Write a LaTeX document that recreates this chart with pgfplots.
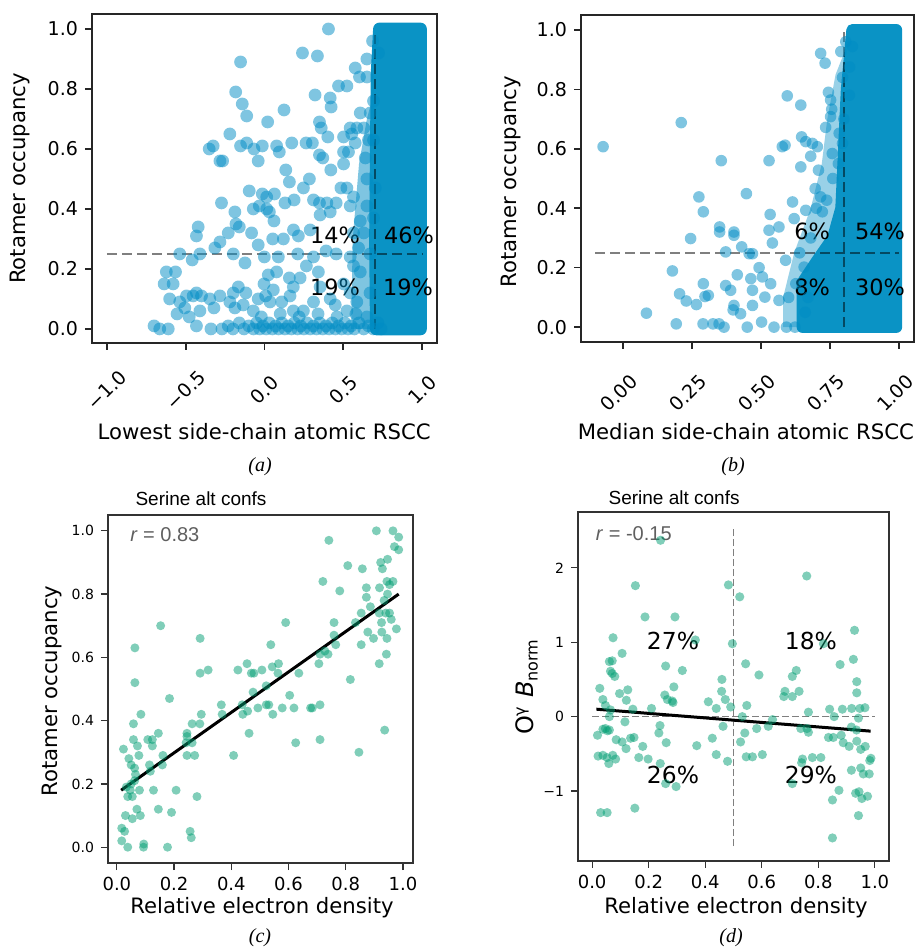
\documentclass[border=0pt]{standalone}
\usepackage{fontspec}
\setmainfont{DejaVu Sans}
\newfontfamily\helv{Liberation Sans}
\newfontfamily\tms{Liberation Serif}
\usepackage{pgfplots}
\pgfplotsset{compat=1.18}
\definecolor{ablue}{RGB}{0,140,196}
\definecolor{acore}{RGB}{10,147,197}
\definecolor{sgreen}{RGB}{2,158,115}
\definecolor{rgray}{RGB}{95,95,95}
\pgfplotsset{
  panel/.style={scale only axis, anchor=south west, tick align=outside,
    xtick pos=bottom, ytick pos=left, major tick length=3.5pt,
    axis line style={black!85, line width=0.8pt},
    every tick/.style={black!85, line width=0.8pt}},
  bluedots/.style={only marks, mark=*, mark size=#1, color=ablue,
    mark options={draw opacity=0, fill=ablue, fill opacity=0.5}},
  greendots/.style={only marks, mark=*, mark size=#1, color=sgreen,
    mark options={draw opacity=0, fill=sgreen, fill opacity=0.5}},
  quad/.style={black, opacity=0.5, line width=1pt, dash pattern=on 5pt off 2.5pt},
}
\begin{document}
\begin{tikzpicture}
\useasboundingbox (0,0) rectangle (459pt,474.5pt);

% (a) lowest side-chain RSCC
\begin{axis}[panel, at={(46pt,303pt)}, width=172.5pt, height=164.5pt,
  xmin=-1.095, xmax=1.095, ymin=-0.047, ymax=1.05,
  xtick={-1,-0.5,0,0.5,1}, xticklabels={−1.0,−0.5,0.0,0.5,1.0},
  ytick={0,0.2,0.4,0.6,0.8,1}, yticklabels={0.0,0.2,0.4,0.6,0.8,1.0},
  xticklabel style={anchor=center, yshift=-20pt, rotate=45, font=\fontsize{9.5}{11}\selectfont},
  yticklabel style={font=\fontsize{9.5}{11}\selectfont},
  xlabel={Lowest side-chain atomic RSCC}, ylabel={Rotamer occupancy},
  label style={font=\fontsize{10.6}{12}\selectfont},
  xlabel style={at={(axis description cs:0.499,-0.27)}, anchor=center},
  ylabel style={at={(axis description cs:-0.209,0.5)}, anchor=center},
]
\addplot[fill=ablue, fill opacity=0.5, draw=none] coordinates {
  (0.55,0) (0.56,0.3) (0.6,0.55) (0.65,0.7) (0.70,0.8) (0.70,0)} \closedcycle;
\addplot[bluedots=3.2pt] coordinates {
  (0.406,1.0)(0.241,0.92)(0.336,0.91)(-0.152,0.89)(-0.183,0.79)(-0.141,0.75)(-0.113,0.71)
  (0.124,0.73)(0.02,0.69)(0.47,0.81)(0.523,0.81)(0.417,0.77)(0.321,0.78)(0.423,0.74)
  (0.576,0.87)(0.603,0.84)(0.65,0.84)(0.65,0.90)(0.686,0.96)(0.724,0.92)(0.608,0.72)
  (0.63,0.67)(0.349,0.69)(0.36,0.67)(0.402,0.64)(-0.22,0.65)(-0.351,0.60)(-0.326,0.61)
  (-0.283,0.56)(-0.266,0.56)(-0.152,0.61)(-0.113,0.62)(-0.067,0.60)(-0.014,0.61)(-0.04,0.56)
  (0.077,0.61)(0.094,0.59)(0.173,0.62)(0.264,0.62)(0.304,0.62)(0.349,0.58)(0.37,0.57)
  (0.421,0.53)(0.135,0.53)(0.158,0.49)(0.247,0.47)(0.285,0.50)(-0.097,0.46)(-0.014,0.45)
  (0.014,0.44)(0.063,0.45)(-0.273,0.42)(-0.071,0.40)(-0.033,0.41)(0.014,0.40)(0.031,0.39)
  (0.06,0.36)(0.13,0.42)(0.188,0.43)(0.311,0.43)(0.349,0.42)(0.396,0.42)(0.455,0.42)
  (-0.188,0.39)(-0.181,0.35)(-0.16,0.34)(-0.421,0.34)(-0.432,0.31)(-0.23,0.32)(-0.283,0.29)
  (-0.082,0.32)(-0.04,0.28)(0.052,0.30)(0.12,0.30)(0.184,0.33)(0.215,0.31)(0.29,0.33)
  (0.353,0.38)(0.417,0.39)(0.544,0.41)(0.565,0.44)(0.523,0.47)(0.485,0.47)(0.502,0.55)
  (0.533,0.59)(0.576,0.62)(0.502,0.59)(0.64,0.57)(0.65,0.50)(-0.538,0.25)(-0.41,0.25)
  (-0.459,0.23)(-0.315,0.27)(-0.198,0.25)(-0.124,0.22)(-0.001,0.24)(0.088,0.24)(0.211,0.25)
  (0.311,0.24)(0.391,0.26)(0.455,0.25)(0.544,0.24)(0.597,0.27)(-0.623,0.19)(-0.565,0.19)
  (-0.637,0.15)(-0.58,0.15)(-0.602,0.10)(-0.555,0.05)(-0.538,0.09)(-0.506,0.07)(-0.495,0.11)
  (-0.453,0.11)(-0.432,0.12)(-0.4,0.11)(-0.41,0.06)(-0.478,0.04)(-0.432,0.01)(-0.34,0.0)
  (-0.321,0.07)(-0.347,0.10)(-0.283,0.11)(-0.22,0.09)(-0.198,0.12)(-0.166,0.14)(-0.188,0.07)
  (-0.135,0.08)(-0.118,0.12)(-0.071,0.06)(-0.04,0.10)(0.007,0.11)(-0.003,0.15)(0.024,0.18)
  (0.077,0.19)(0.056,0.13)(0.109,0.09)(0.162,0.11)(0.183,0.14)(0.158,0.17)(0.226,0.17)
  (0.266,0.21)(0.342,0.19)(0.353,0.14)(0.417,0.10)(0.449,0.08)(0.311,0.09)(0.247,0.06)
  (0.183,0.06)(0.035,0.09)(-0.701,0.01)(-0.665,0.0)(-0.611,0.0)(0.502,0.15)(0.544,0.12)
  (0.586,0.09)(0.523,0.06)(0.565,0.21)(0.608,0.19)(0.63,0.32)(0.608,0.36)(0.565,0.32)
  (0.65,0.41)(0.67,0.25)(0.67,0.12)(0.65,0.04)(0.692,0.37)(0.703,0.47)(0.692,0.63)
  (0.66,0.63)(0.692,0.76)(0.671,0.72)(0.586,0.67)(0.554,0.65)(0.502,0.64)(0.544,0.67)
  (-0.27,0.0)(-0.23,0.01)(-0.2,0.0)(-0.16,0.02)(-0.13,0.0)(-0.1,0.01)(-0.07,0.0)(-0.05,0.02)
  (-0.03,0.0)(-0.01,0.01)(0.01,0.0)(0.03,0.02)(0.05,0.0)(0.07,0.01)(0.09,0.0)(0.11,0.02)
  (0.13,0.0)(0.15,0.01)(0.17,0.0)(0.19,0.02)(0.21,0.0)(0.23,0.01)(0.25,0.0)(0.27,0.02)
  (0.29,0.0)(0.31,0.01)(0.33,0.0)(0.35,0.02)(0.37,0.0)(0.39,0.01)(0.41,0.0)(0.43,0.02)
  (0.45,0.0)(0.47,0.01)(0.49,0.0)(0.51,0.02)(0.53,0.0)(0.55,0.01)(0.57,0.0)(0.6,0.02)
  (0.63,0.0)(0.66,0.01)(0.69,0.0)(0.72,0.02)(0.74,0.0)(-0.02,0.04)(0.1,0.05)(0.22,0.04)
  (0.34,0.05)(0.46,0.04)(0.58,0.05)
};
\addplot[fill=acore, draw=acore, line width=6.4pt, line join=round] coordinates {
  (0.71,0) (0.705,0.3) (0.71,0.6) (0.715,0.85) (0.73,1.0) (0.99,1.0) (0.99,0)} -- cycle;
\addplot[quad] coordinates {(-1,0.25) (1,0.25)};
\addplot[quad] coordinates {(0.7,0) (0.7,0.98)};
\node[font=\fontsize{11.2}{13}\selectfont] at (axis cs:0.448,0.313) {14\%};
\node[font=\fontsize{11.2}{13}\selectfont] at (axis cs:0.917,0.313) {46\%};
\node[font=\fontsize{11.2}{13}\selectfont] at (axis cs:0.448,0.14) {19\%};
\node[font=\fontsize{11.2}{13}\selectfont] at (axis cs:0.911,0.14) {19\%};
\end{axis}

% (b) median side-chain RSCC
\begin{axis}[panel, at={(290.5pt,303.5pt)}, width=166.5pt, height=163.5pt,
  xmin=-0.152, xmax=1.054, ymin=-0.05, ymax=1.05,
  xtick={0,0.25,0.5,0.75,1}, xticklabels={0.00,0.25,0.50,0.75,1.00},
  ytick={0,0.2,0.4,0.6,0.8,1}, yticklabels={0.0,0.2,0.4,0.6,0.8,1.0},
  xticklabel style={anchor=center, yshift=-22pt, xshift=-2pt, rotate=45, font=\fontsize{9.5}{11}\selectfont},
  yticklabel style={font=\fontsize{9.5}{11}\selectfont},
  xlabel={Median side-chain atomic RSCC}, ylabel={Rotamer occupancy},
  label style={font=\fontsize{10.6}{12}\selectfont},
  xlabel style={at={(axis description cs:0.495,-0.275)}, anchor=center},
  ylabel style={at={(axis description cs:-0.21,0.49)}, anchor=center},
]
\addplot[fill=ablue, fill opacity=0.4, draw=none] coordinates {
  (0.58,0) (0.58,0.1) (0.62,0.25) (0.68,0.4) (0.72,0.55) (0.74,0.7) (0.77,0.85) (0.80,0.92) (0.80,0)} \closedcycle;
\addplot[bluedots=2.9pt] coordinates {
  (-0.072,0.607)(0.211,0.688)(0.085,0.047)(0.193,0.011)(0.179,0.189)(0.205,0.112)(0.229,0.088)
  (0.266,0.076)(0.245,0.298)(0.275,0.438)(0.291,0.388)(0.291,0.146)(0.297,0.103)(0.29,0.011)
  (0.326,0.011)(0.348,0.011)(0.366,0.0)(0.309,0.107)(0.356,0.56)(0.35,0.337)(0.35,0.32)
  (0.372,0.253)(0.402,0.32)(0.402,0.309)(0.372,0.14)(0.39,0.124)(0.402,0.073)(0.414,0.176)
  (0.399,0.058)(0.426,0.045)(0.447,0.449)(0.43,0.27)(0.457,0.247)(0.469,0.247)(0.463,0.163)
  (0.469,0.124)(0.45,0.0)(0.469,0.073)(0.493,0.2)(0.502,0.017)(0.505,0.169)(0.514,0.101)
  (0.529,0.56)(0.533,0.379)(0.529,0.326)(0.541,0.283)(0.535,0.146)(0.547,0.0)(0.565,0.337)
  (0.565,0.09)(0.577,0.607)(0.587,0.612)(0.595,0.778)(0.592,0.0)(0.589,0.225)(0.614,0.421)
  (0.62,0.365)(0.626,0.146)(0.623,0.0)(0.644,0.747)(0.647,0.64)(0.644,0.539)(0.662,0.393)
  (0.656,0.202)(0.662,0.624)(0.686,0.618)(0.68,0.575)(0.704,0.607)(0.708,0.528)(0.696,0.466)
  (0.716,0.438)(0.722,0.388)(0.738,0.427)(0.716,0.921)(0.732,0.888)(0.744,0.79)(0.752,0.764)
  (0.734,0.672)(0.756,0.733)(0.752,0.708)(0.758,0.584)(0.789,0.927)(0.795,0.84)(0.783,0.652)
  (0.795,0.618)(0.807,0.96)(0.821,0.875)(0.831,0.944)(0.66,0.05)(0.67,0.1)(0.64,0.25)
  (0.68,0.3)(0.6,0.1)(0.7,0.4)(0.76,0.5)(0.78,0.55)(0.8,0.7)(0.82,0.78)
};
\addplot[fill=acore, draw=acore, line width=5.8pt, line join=round] coordinates {
  (0.65,0) (0.65,0.15) (0.70,0.22) (0.76,0.3) (0.79,0.4) (0.80,0.6) (0.81,0.8) (0.83,1.0) (0.99,1.0) (0.99,0)} -- cycle;
\addplot[quad] coordinates {(-0.1,0.25) (1,0.25)};
\addplot[quad] coordinates {(0.8,0) (0.8,1.0)};
\node[font=\fontsize{11.2}{13}\selectfont] at (axis cs:0.685,0.323) {6\%};
\node[font=\fontsize{11.2}{13}\selectfont] at (axis cs:0.931,0.323) {54\%};
\node[font=\fontsize{11.2}{13}\selectfont] at (axis cs:0.685,0.135) {8\%};
\node[font=\fontsize{11.2}{13}\selectfont] at (axis cs:0.931,0.135) {30\%};
\end{axis}

% (c) occupancy vs relative density
\begin{axis}[panel, at={(54pt,43pt)}, width=152.5pt, height=174pt,
  axis line style={black!80, line width=0.6pt}, every tick/.style={black!80, line width=0.6pt},
  xmin=-0.031, xmax=1.035, ymin=-0.05, ymax=1.05,
  xtick={0,0.2,0.4,0.6,0.8,1}, xticklabels={0.0,0.2,0.4,0.6,0.8,1.0},
  ytick={0,0.2,0.4,0.6,0.8,1}, yticklabels={0.0,0.2,0.4,0.6,0.8,1.0},
  xticklabel style={font=\fontsize{9}{10}\selectfont},
  yticklabel style={font=\fontsize{7}{8}\selectfont},
  xlabel={Relative electron density}, ylabel={Rotamer occupancy},
  label style={font=\fontsize{10.6}{12}\selectfont},
  xlabel style={at={(axis description cs:0.505,-0.129)}, anchor=center},
  ylabel style={at={(axis description cs:-0.184,0.494)}, anchor=center},
  title={Serine alt confs},
  title style={at={(axis description cs:0.305,1.046)}, anchor=center, yshift=-6pt, font=\helv\fontsize{9.5}{11}\selectfont},
]
\addplot[greendots=2.25pt] coordinates {
  (0.907,1.0)(0.965,1.0)(0.985,0.98)(0.97,0.95)(0.985,0.94)(0.741,0.97)(0.807,0.89)(0.858,0.88)
  (0.922,0.90)(0.946,0.91)(0.928,0.88)(0.72,0.84)(0.779,0.81)(0.872,0.82)(0.918,0.82)(0.944,0.84)
  (0.965,0.84)(0.953,0.83)(0.946,0.80)(0.872,0.79)(0.934,0.78)(0.886,0.76)(0.854,0.74)(0.940,0.74)
  (0.917,0.74)(0.953,0.74)(0.834,0.71)(0.759,0.71)(0.925,0.71)(0.959,0.72)(0.877,0.68)(0.926,0.68)
  (0.977,0.69)(0.897,0.66)(0.944,0.66)(0.759,0.67)(0.765,0.64)(0.854,0.64)(0.942,0.61)(0.917,0.58)
  (0.706,0.58)(0.738,0.61)(0.727,0.62)(0.71,0.61)(0.59,0.71)(0.538,0.64)(0.565,0.58)(0.543,0.57)
  (0.636,0.55)(0.563,0.55)(0.507,0.56)(0.455,0.58)(0.479,0.55)(0.47,0.55)(0.423,0.56)(0.319,0.56)
  (0.291,0.55)(0.291,0.66)(0.153,0.70)(0.063,0.63)(0.063,0.52)(0.184,0.47)(0.604,0.48)(0.522,0.51)
  (0.476,0.49)(0.493,0.44)(0.522,0.45)(0.531,0.45)(0.545,0.42)(0.578,0.44)(0.619,0.44)(0.677,0.44)
  (0.683,0.44)(0.71,0.45)(0.438,0.45)(0.365,0.45)(0.368,0.42)(0.44,0.42)(0.457,0.43)(0.462,0.36)
  (0.408,0.29)(0.625,0.33)(0.71,0.34)(0.846,0.30)(0.936,0.37)(0.816,0.53)(0.295,0.42)(0.29,0.39)
  (0.263,0.39)(0.245,0.36)(0.245,0.35)(0.242,0.33)(0.263,0.33)(0.245,0.29)(0.272,0.29)(0.207,0.18)
  (0.28,0.16)(0.256,0.05)(0.26,0.03)(0.177,0.0)(0.191,0.11)(0.145,0.12)(0.128,0.18)(0.159,0.26)
  (0.161,0.29)(0.145,0.36)(0.124,0.34)(0.108,0.34)(0.124,0.32)(0.114,0.26)(0.117,0.24)(0.084,0.42)
  (0.058,0.39)(0.058,0.34)(0.072,0.32)(0.077,0.29)(0.023,0.31)(0.042,0.28)(0.05,0.26)(0.062,0.25)
  (0.065,0.23)(0.062,0.21)(0.05,0.20)(0.033,0.19)(0.047,0.18)(0.079,0.18)(0.038,0.16)(0.054,0.16)
  (0.03,0.10)(0.054,0.09)(0.07,0.12)(0.082,0.10)(0.017,0.06)(0.027,0.05)(0.017,0.02)(0.038,0.0)
  (0.094,0.01)(0.093,0.0)
};
\addplot[black, line width=1.5pt] coordinates {(0.015,0.18) (0.985,0.80)};
\node[anchor=west, text=rgray, font=\helv\fontsize{10}{12}\selectfont] at (rel axis cs:0.05,0.945) {\textit{r} = 0.83};
\end{axis}

% (d) O-gamma B-factor vs relative density
\begin{axis}[panel, at={(289pt,44pt)}, width=155.5pt, height=174.5pt,
  axis line style={black!80, line width=0.6pt}, every tick/.style={black!80, line width=0.6pt},
  xmin=-0.05, xmax=1.05, ymin=-1.94, ymax=2.75,
  xtick={0,0.2,0.4,0.6,0.8,1}, xticklabels={0.0,0.2,0.4,0.6,0.8,1.0},
  ytick={-1,0,1,2}, yticklabels={−1,0,1,2},
  xticklabel style={font=\fontsize{9}{10}\selectfont},
  yticklabel style={font=\fontsize{7}{8}\selectfont},
  xlabel={Relative electron density},
  ylabel={O\textsuperscript{γ} \textit{B}\textsubscript{norm}},
  label style={font=\fontsize{10.6}{12}\selectfont},
  xlabel style={at={(axis description cs:0.508,-0.135)}, anchor=center},
  ylabel style={at={(axis description cs:-0.164,0.499)}, anchor=center, font=\fontsize{12}{14}\selectfont},
  title={Serine alt confs},
  title style={at={(axis description cs:0.309,1.04)}, anchor=center, yshift=-6pt, font=\helv\fontsize{9.5}{11}\selectfont},
]
\addplot[greendots=2.3pt] coordinates {
  (0.242,2.37)(0.153,1.76)(0.482,1.77)(0.522,1.61)(0.759,1.89)(0.187,1.34)(0.293,1.34)(0.074,1.06)
  (0.365,1.03)(0.496,0.98)(0.818,0.98)(0.928,1.16)(0.106,0.85)(0.061,0.74)(0.071,0.75)(0.26,0.68)
  (0.543,0.71)(0.877,0.70)(0.924,0.77)(0.065,0.61)(0.071,0.58)(0.08,0.54)(0.319,0.62)(0.59,0.56)
  (0.708,0.54)(0.722,0.62)(0.459,0.50)(0.936,0.47)(0.027,0.38)(0.289,0.40)(0.097,0.31)(0.126,0.36)
  (0.458,0.34)(0.682,0.34)(0.732,0.34)(0.936,0.32)(0.038,0.23)(0.121,0.22)(0.257,0.29)(0.266,0.23)
  (0.283,0.21)(0.471,0.23)(0.678,0.27)(0.708,0.27)(0.411,0.20)(0.286,0.19)(0.047,0.15)(0.21,0.11)
  (0.439,0.11)(0.49,0.13)(0.547,0.15)(0.765,0.06)(0.965,0.12)(0.947,0.11)(0.918,0.11)(0.885,0.10)
  (0.84,0.10)(0.065,0.09)(0.144,0.10)(0.061,0.0)(0.531,0.0)(0.856,0.0)(0.942,-0.02)(0.116,-0.07)
  (0.638,-0.04)(0.24,-0.12)(0.463,-0.13)(0.582,-0.16)(0.623,-0.13)(0.738,-0.16)(0.76,-0.16)(0.917,-0.14)
  (0.935,-0.18)(0.019,-0.25)(0.038,-0.17)(0.047,-0.16)(0.061,-0.18)(0.054,-0.19)(0.236,-0.22)(0.765,-0.21)
  (0.54,-0.22)(0.085,-0.31)(0.106,-0.34)(0.136,-0.29)(0.148,-0.28)(0.425,-0.29)(0.525,-0.34)(0.836,-0.28)
  (0.853,-0.28)(0.881,-0.25)(0.888,-0.35)(0.909,-0.40)(0.936,-0.33)(0.966,-0.40)(0.12,-0.43)(0.179,-0.40)
  (0.262,-0.35)(0.37,-0.39)(0.95,-0.44)(0.021,-0.53)(0.038,-0.52)(0.053,-0.55)(0.073,-0.52)(0.059,-0.63)
  (0.083,-0.57)(0.165,-0.55)(0.198,-0.57)(0.439,-0.51)(0.479,-0.60)(0.545,-0.54)(0.567,-0.54)(0.602,-0.51)
  (0.744,-0.57)(0.779,-0.55)(0.809,-0.55)(0.741,-0.62)(0.986,-0.56)(0.982,-0.59)(0.241,-0.63)(0.917,-0.72)
  (0.95,-0.69)(0.959,-0.77)(0.98,-0.77)(0.708,-0.90)(0.26,-0.90)(0.297,-0.94)(0.873,-0.99)(0.932,-1.03)
  (0.944,-1.01)(0.954,-1.10)(0.974,-1.07)(0.85,-1.12)(0.03,-1.29)(0.053,-1.29)(0.151,-1.23)(0.942,-1.33)
  (0.85,-1.63)
};
\addplot[black, opacity=0.5, line width=0.75pt, dash pattern=on 3.5pt off 1.5pt] coordinates {(0.5,-1.74) (0.5,2.54)};
\addplot[black, opacity=0.5, line width=0.75pt, dash pattern=on 3.5pt off 1.5pt] coordinates {(0,0) (1,0)};
\addplot[black, line width=1.5pt] coordinates {(0.015,0.10) (0.985,-0.195)};
\node[anchor=west, text=rgray, font=\helv\fontsize{10}{12}\selectfont] at (rel axis cs:0.035,0.937) {\textit{r} = -0.15};
\node[font=\fontsize{11.7}{13}\selectfont] at (axis cs:0.286,1.02) {27\%};
\node[font=\fontsize{11.7}{13}\selectfont] at (axis cs:0.774,1.02) {18\%};
\node[font=\fontsize{11.7}{13}\selectfont] at (axis cs:0.286,-0.78) {26\%};
\node[font=\fontsize{11.7}{13}\selectfont] at (axis cs:0.774,-0.78) {29\%};
\end{axis}

\node[font=\tms\itshape\fontsize{10}{12}\selectfont] at (130pt,241pt) {(a)};
\node[font=\tms\itshape\fontsize{10}{12}\selectfont] at (366.5pt,241pt) {(b)};
\node[font=\tms\itshape\fontsize{10}{12}\selectfont] at (130pt,5.5pt) {(c)};
\node[font=\tms\itshape\fontsize{10}{12}\selectfont] at (365.5pt,5.5pt) {(d)};
\end{tikzpicture}
\end{document}
